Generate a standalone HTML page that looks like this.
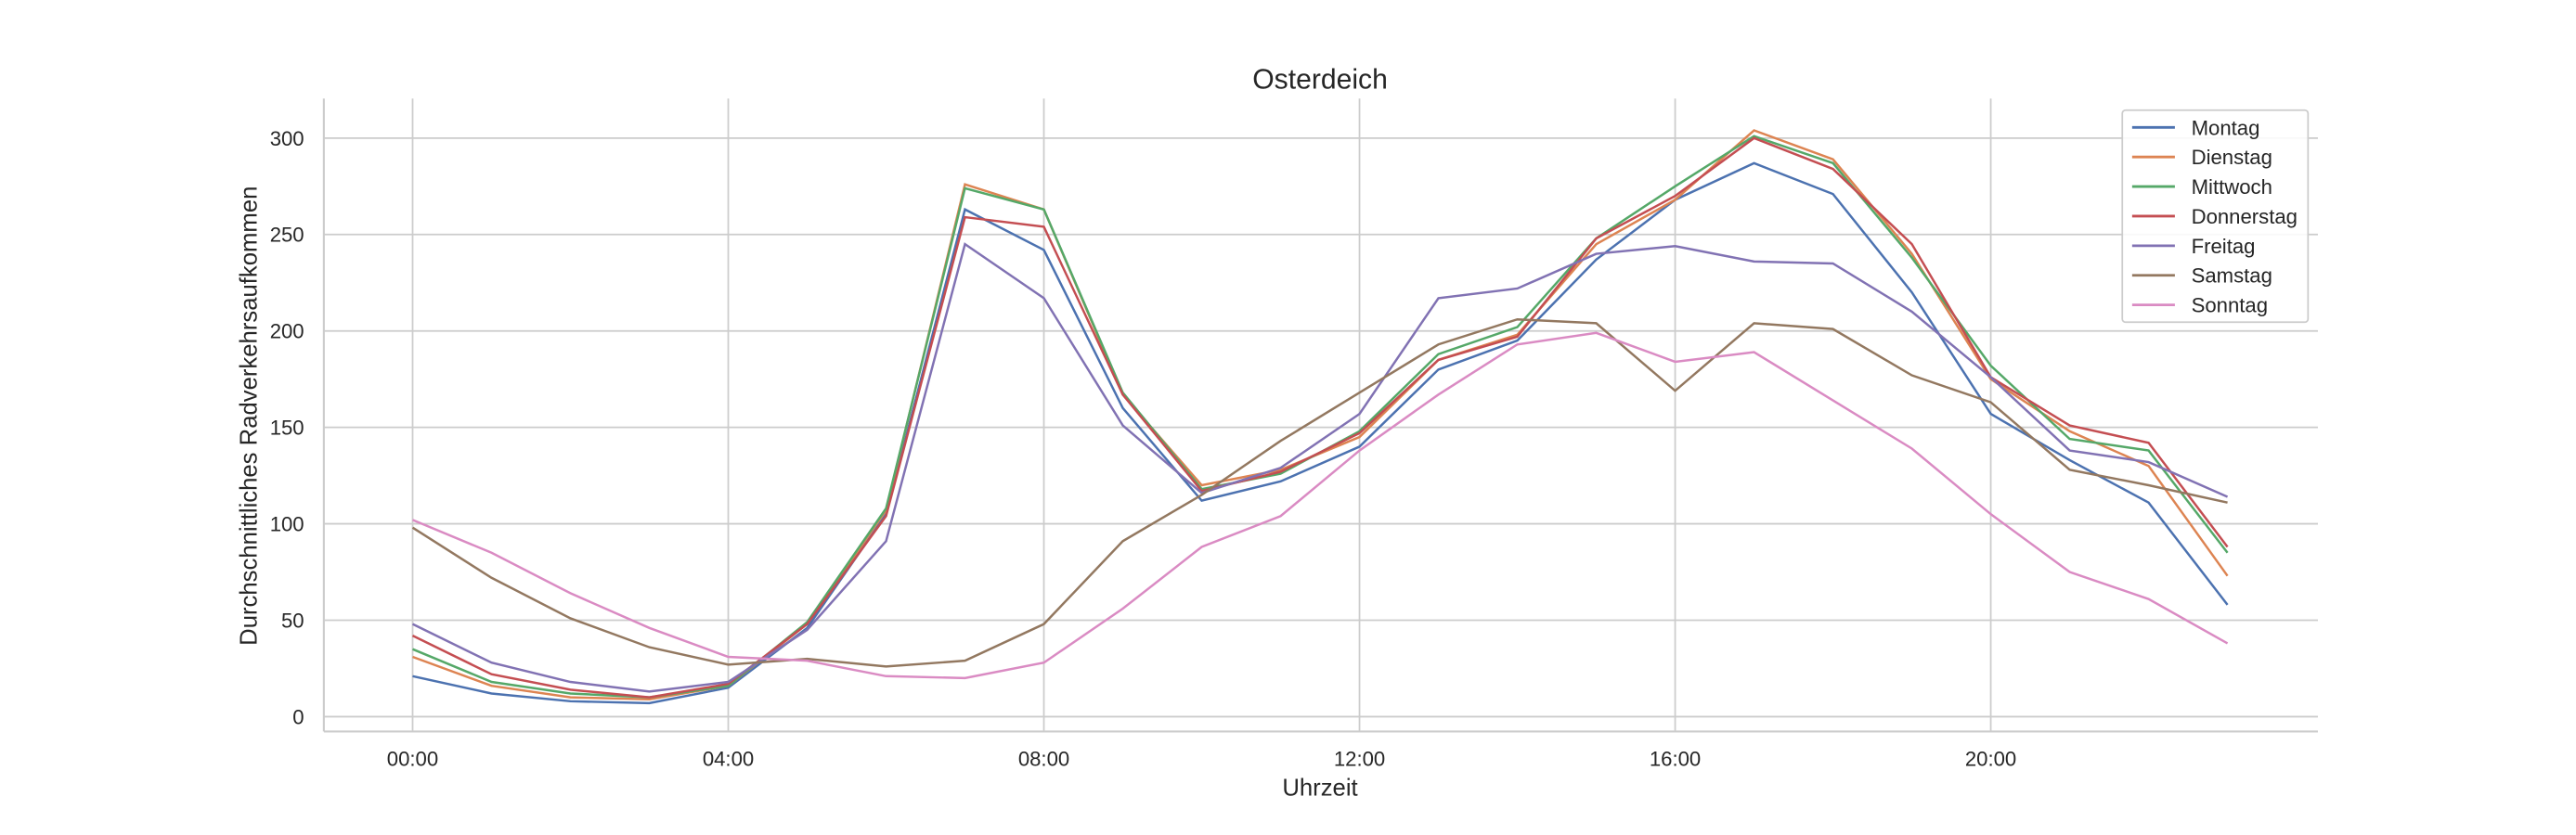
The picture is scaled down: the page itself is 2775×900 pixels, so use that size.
<!DOCTYPE html>
<html><head><meta charset="utf-8"><style>
html,body{margin:0;padding:0;background:#fff;}
svg{display:block;font-family:"Liberation Sans",sans-serif;}
</style></head><body>
<svg id="s" width="2775" height="900" viewBox="0 0 1567 508" preserveAspectRatio="none" xmlns="http://www.w3.org/2000/svg">
<rect width="1575" height="511" fill="#fff"/>
<g id="grid" stroke="#cccccc" stroke-width="1"></g>
<line x1="197" y1="60" x2="197" y2="445" stroke="#cccccc" stroke-width="1.2"/>
<line x1="197" y1="445" x2="1410" y2="445" stroke="#cccccc" stroke-width="1.2"/>
<g id="ticks" fill="#262626" font-size="12.5"></g>
<g id="lines" fill="none" stroke-width="1.4"></g>
<text x="803" y="54" text-anchor="middle" font-size="17" fill="#262626">Osterdeich</text>
<text x="803" y="484" text-anchor="middle" font-size="14.5" fill="#262626">Uhrzeit</text>
<text transform="translate(156,253) rotate(-90)" text-anchor="middle" font-size="14.5" fill="#262626">Durchschnittliches Radverkehrsaufkommen</text>
<g id="legend"></g>
</svg>
<script>
const NS="http://www.w3.org/2000/svg";
function el(t,a,p,txt){const e=document.createElementNS(NS,t);for(const k in a)e.setAttribute(k,a[k]);if(txt!==undefined)e.textContent=txt;p.appendChild(e);return e;}
const X=h=>251+h*48, Y=v=>436-v*1.1733;
const g=document.getElementById('grid'),tk=document.getElementById('ticks');
for(let v=0;v<=300;v+=50){el('line',{x1:197,x2:1410,y1:Y(v),y2:Y(v)},g);el('text',{x:185,y:Y(v)+4.5,'text-anchor':'end'},tk,v);}
for(let h=0;h<=20;h+=4){el('line',{x1:X(h),x2:X(h),y1:60,y2:445},g);el('text',{x:X(h),y:466,'text-anchor':'middle'},tk,(h<10?'0':'')+h+':00');}
const S=[
["Montag","#4c72b0",[21,12,8,7,15,46,105,263,242,160,112,122,140,180,195,237,268,287,271,220,157,133,111,58]],
["Dienstag","#dd8452",[31,16,10,9,16,48,107,276,263,167,120,128,145,185,198,245,268,304,289,240,175,148,130,73]],
["Mittwoch","#55a868",[35,18,12,10,16,49,108,274,263,168,118,126,148,188,202,248,275,301,287,238,182,144,138,85]],
["Donnerstag","#c44e52",[42,22,14,10,17,48,104,259,254,167,117,127,147,185,197,248,270,300,284,245,176,151,142,88]],
["Freitag","#8172b3",[48,28,18,13,18,45,91,245,217,151,116,129,157,217,222,240,244,236,235,210,176,138,132,114]],
["Samstag","#937860",[98,72,51,36,27,30,26,29,48,91,115,143,168,193,206,204,169,204,201,177,163,128,120,111]],
["Sonntag","#da8bc3",[102,85,64,46,31,29,21,20,28,56,88,104,138,167,193,199,184,189,164,139,105,75,61,38]]];
const L=document.getElementById('lines'),lg=document.getElementById('legend');
el('rect',{x:1291,y:67,width:113,height:129,rx:2,fill:"#fff","fill-opacity":0.85,stroke:"#cccccc","stroke-width":1},lg);
S.forEach((s,i)=>{el('polyline',{points:s[2].map((v,h)=>X(h)+','+Y(v)).join(' '),stroke:s[1]},L);
const y=77.5+i*18;el('line',{x1:1297,x2:1323,y1:y,y2:y,stroke:s[1],'stroke-width':1.6},lg);
el('text',{x:1333,y:y+4.5,'font-size':12.5,fill:'#262626'},lg,s[0]);});
</script>
</body></html>
